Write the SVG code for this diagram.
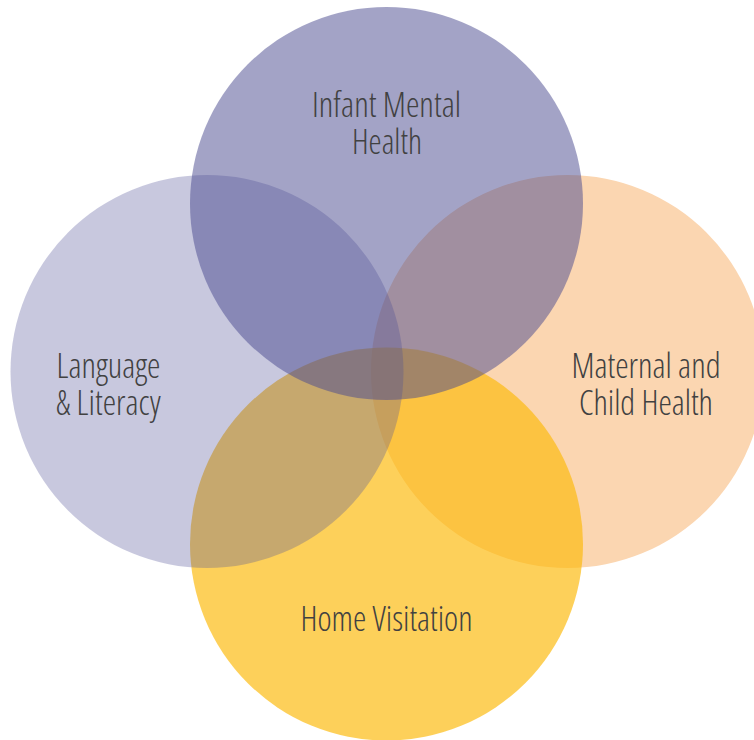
<svg xmlns="http://www.w3.org/2000/svg" width="754" height="740" viewBox="0 0 754 740">
<style>
.lbl{font-family:"Open Sans","Liberation Sans Narrow","Liberation Sans",sans-serif;font-weight:300;font-stretch:condensed;font-size:34px;fill:#414141;text-anchor:middle}
</style>
<rect x="0" y="0" width="754" height="740" fill="#ffffff"/>
<g id="connectors"/>
<g id="maternal-child-health">
<circle cx="567.5" cy="371.5" r="196.5" fill="#fbd6b1"/>
<text class="lbl" x="646" y="378" textLength="149" lengthAdjust="spacingAndGlyphs">Maternal and</text>
<text class="lbl" x="646" y="415" textLength="134" lengthAdjust="spacingAndGlyphs">Child Health</text>
</g>
<g id="home-visitation">
<circle cx="386.5" cy="544" r="196.5" fill="#fcba0c" fill-opacity="0.68"/>
<text class="lbl" x="386.5" y="631" textLength="172" lengthAdjust="spacingAndGlyphs">Home Visitation</text>
</g>
<g id="language-literacy">
<circle cx="207" cy="371.5" r="196.5" fill="#535398" fill-opacity="0.32"/>
<text class="lbl" x="108.5" y="378" textLength="104" lengthAdjust="spacingAndGlyphs">Language</text>
<text class="lbl" x="108.5" y="415" textLength="105" lengthAdjust="spacingAndGlyphs">&amp; Literacy</text>
</g>
<g id="infant-mental-health">
<circle cx="386.5" cy="203.5" r="196.5" fill="#4b4b8f" fill-opacity="0.51"/>
<text class="lbl" x="386.5" y="117" textLength="149" lengthAdjust="spacingAndGlyphs">Infant Mental</text>
<text class="lbl" x="387" y="154" textLength="70" lengthAdjust="spacingAndGlyphs">Health</text>
</g>
</svg>
